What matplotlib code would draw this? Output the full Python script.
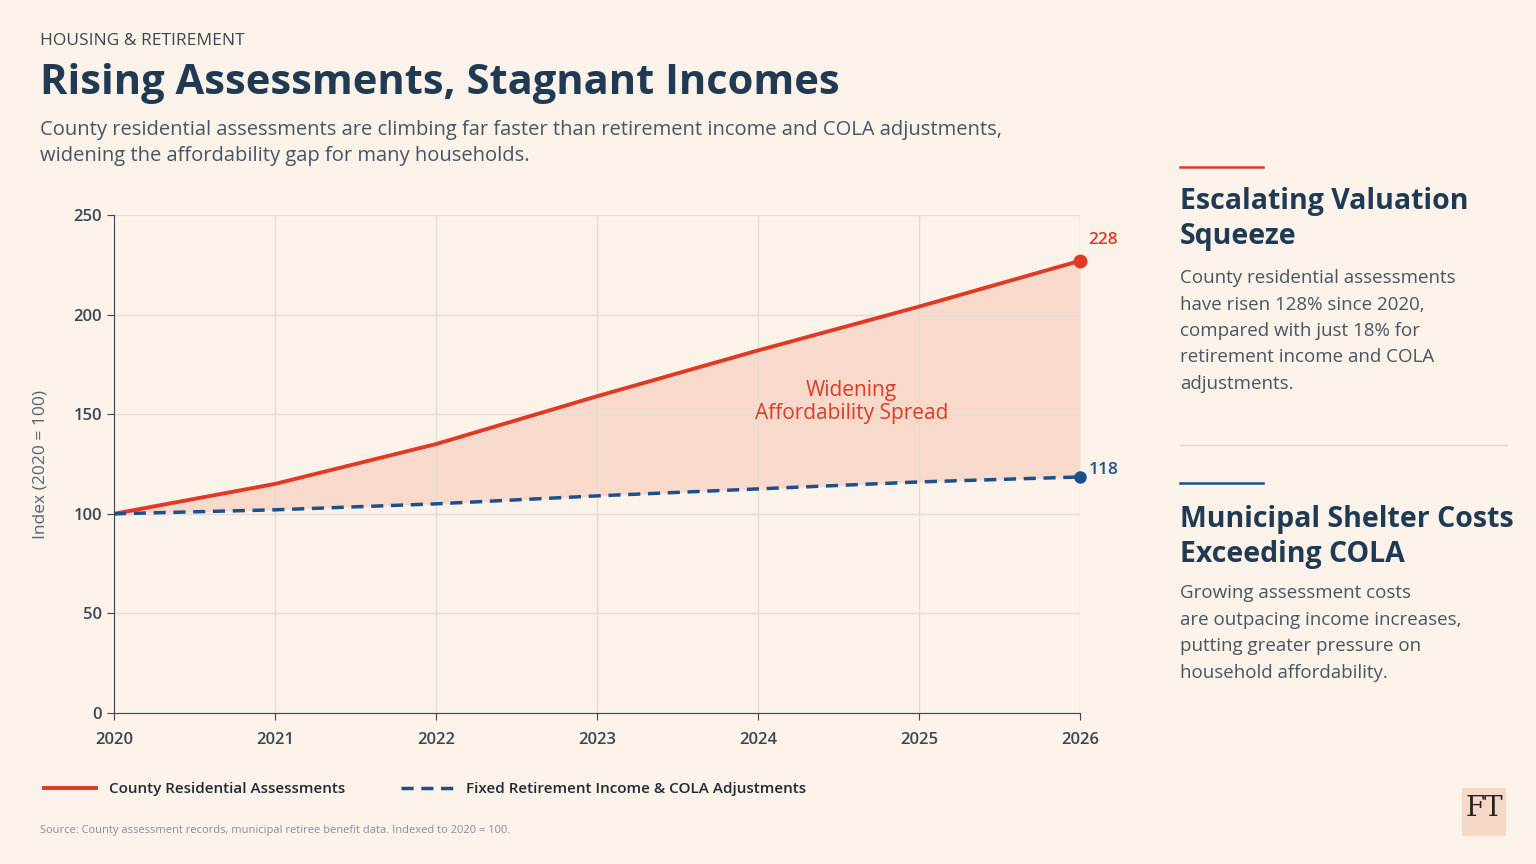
import matplotlib
matplotlib.use("Agg")
import matplotlib.pyplot as plt
from matplotlib.lines import Line2D

years = [2020, 2021, 2022, 2023, 2024, 2025, 2026]
assessments = [100, 115, 135, 159, 182, 204, 227]
retirement = [100, 102, 105, 109, 112.5, 116, 118.5]
yticks = [0, 50, 100, 150, 200, 250]
end_labels = ["228", "118"]

BG = "#fbf2ea"
RED = "#e03a24"
BLUE = "#1c4f8c"
DARK = "#1f3a52"
GREY = "#5a6470"

plt.rcParams['font.family'] = ['Open Sans', 'DejaVu Sans']
fig = plt.figure(figsize=(15.36, 8.64), dpi=100, facecolor=BG)
ax = fig.add_axes([114/1536, 1-713/864, (1080-114)/1536, (713-215)/864], facecolor=BG)

ax.fill_between(years, retirement, assessments, color="#f8d2c4", alpha=0.75, lw=0)
ax.plot(years, assessments, color=RED, lw=2.8, solid_capstyle='round')
ax.plot(years, retirement, color=BLUE, lw=2.5, ls=(0, (3.5, 2.2)))
ax.plot(years[-1], assessments[-1], 'o', color=RED, ms=9, clip_on=False, zorder=5)
ax.plot(years[-1], retirement[-1], 'o', color=BLUE, ms=8, clip_on=False, zorder=5)
ax.annotate(end_labels[0], (years[-1], assessments[-1]), xytext=(6, 12), textcoords='offset points',
            color=RED, fontsize=12.5, fontweight='semibold')
ax.annotate(end_labels[1], (years[-1], retirement[-1]), xytext=(6, 2), textcoords='offset points',
            color=BLUE, fontsize=12.5, fontweight='semibold')
ax.text(2024.58, 156, "Widening\nAffordability Spread", color=RED, fontsize=15, ha='center', va='center',
        linespacing=1.15)

ax.set_xlim(2020, 2026)
ax.set_ylim(0, 250)
ax.set_xticks(years)
ax.set_yticks(yticks)
ax.grid(True, color="#e3dcd6", lw=0.9)
for s in ['top', 'right']:
    ax.spines[s].set_visible(False)
for s in ['left', 'bottom']:
    ax.spines[s].set_color("#3d4650")
ax.tick_params(colors="#3d4650", labelsize=12, length=5)
ax.tick_params(axis='x', pad=9)
for lab in ax.get_xticklabels() + ax.get_yticklabels():
    lab.set_fontweight('semibold')
    lab.set_color("#3d4650")
ax.set_ylabel("Index (2020 = 100)", color=GREY, fontsize=12.5, labelpad=18)

fig.text(40/1536, 1-41/864, "HOUSING & RETIREMENT", fontsize=12.5, color="#3d4650", va='center')
fig.text(40/1536, 1-84/864, "Rising Assessments, Stagnant Incomes", fontsize=30, fontweight='bold',
         color=DARK, va='center')
fig.text(40/1536, 1-143/864, "County residential assessments are climbing far faster than retirement income and COLA adjustments,\nwidening the affordability gap for many households.",
         fontsize=14.5, color="#4a5560", va='center', linespacing=1.45)

leg_handles = [Line2D([], [], color=RED, lw=2.8), Line2D([], [], color=BLUE, lw=2.5, ls=(0, (3.5, 2.2)))]
leg = fig.legend(leg_handles, ["County Residential Assessments", "Fixed Retirement Income & COLA Adjustments"],
           loc='center left', bbox_to_anchor=(30/1536, 1-789/864), ncol=2, frameon=False,
           fontsize=11, handlelength=3.4, handletextpad=0.9, columnspacing=3.6, labelcolor="#1f2a36")
for t in leg.get_texts():
    t.set_fontweight('semibold')
fig.text(40/1536, 1-831/864, "Source: County assessment records, municipal retiree benefit data. Indexed to 2020 = 100.",
         fontsize=8, color="#8a8f96", va='center')

fig.add_artist(Line2D([1180/1536, 1263/1536], [1-167/864]*2, color=RED, lw=1.8))
fig.text(1180/1536, 1-219/864, "Escalating Valuation\nSqueeze", fontsize=20.5, fontweight='bold', color=DARK,
         va='center', linespacing=1.3)
fig.text(1180/1536, 1-331/864, "County residential assessments\nhave risen 128% since 2020,\ncompared with just 18% for\nretirement income and COLA\nadjustments.",
         fontsize=13.5, color="#4a5560", va='center', linespacing=1.6)
fig.add_artist(Line2D([1180/1536, 1507/1536], [1-445/864]*2, color="#e0d8d2", lw=1))
fig.add_artist(Line2D([1180/1536, 1263/1536], [1-483/864]*2, color=BLUE, lw=1.8))
fig.text(1180/1536, 1-537/864, "Municipal Shelter Costs\nExceeding COLA", fontsize=20.5, fontweight='bold', color=DARK,
         va='center', linespacing=1.3)
fig.text(1180/1536, 1-633/864, "Growing assessment costs\nare outpacing income increases,\nputting greater pressure on\nhousehold affordability.",
         fontsize=13.5, color="#4a5560", va='center', linespacing=1.6)

fig.patches.append(plt.Rectangle((1462/1536, 1-836/864), 44/1536, 48/864, transform=fig.transFigure,
                                 facecolor="#f6d8c6", edgecolor='none'))
fig.text(1484/1536, 1-808/864, "FT", fontsize=20, family=['DejaVu Serif'], color="#222", ha='center', va='center')

fig.savefig("out.png", dpi=100, facecolor=BG)
